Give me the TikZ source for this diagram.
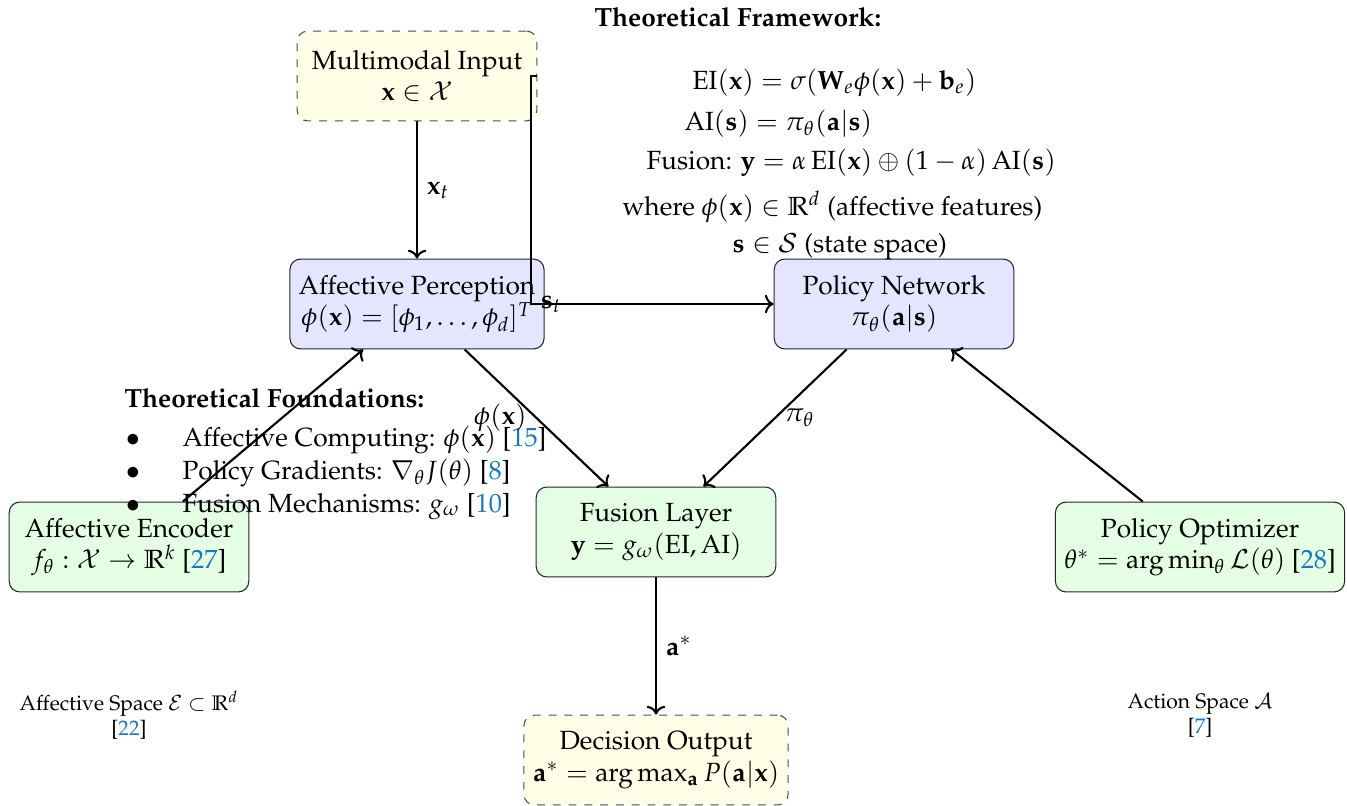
\documentclass[tikz,border=0pt]{standalone}
\usepackage[T1]{fontenc}
\usepackage{mathpazo}
\usepackage{amsmath,amssymb}
\usetikzlibrary{arrows.meta}
\definecolor{citeblue}{RGB}{28,118,190}
\newcommand{\mycite}[1]{[\textcolor{citeblue}{#1}]}
\tikzset{
  box/.style={draw=black!85, rounded corners=4pt, minimum width=3.2cm, minimum height=1.2cm, align=center},
  inbox/.style={box, dashed, draw=black!70, fill=yellow!10},
  bluebox/.style={box, fill=blue!10},
  greenbox/.style={box, fill=green!10},
  arr/.style={->, thick},
  txt/.style={inner sep=0pt, anchor=base west},
  smalltxt/.style={align=center, font=\footnotesize}
}
\begin{document}
\begin{tikzpicture}[x=0.38pt, y=-0.38pt]
\useasboundingbox (0,0) rectangle (1347,805);

% boxes
\node[inbox] (input) at (417,76) {Multimodal Input\\$\mathbf{x}\in\mathcal{X}$};
\node[bluebox] (perception) at (417,304) {Affective Perception\\$\phi(\mathbf{x})=[\phi_1,\ldots,\phi_d]^T$};
\node[bluebox] (policy) at (894,304) {Policy Network\\$\pi_\theta(\mathbf{a}|\mathbf{s})$};
\node[greenbox] (fusion) at (656,532) {Fusion Layer\\$\mathbf{y}=g_\omega(\mathrm{EI},\mathrm{AI})$};
\node[greenbox] (encoder) at (129,547) {Affective Encoder\\$f_\theta:\mathcal{X}\to\mathbb{R}^k$ \mycite{27}};
\node[greenbox] (optimizer) at (1200,547) {Policy Optimizer\\$\theta^*=\arg\min_\theta\mathcal{L}(\theta)$ \mycite{28}};
\node[inbox] (decision) at (656,760) {Decision Output\\$\mathbf{a}^*=\arg\max_{\mathbf{a}}P(\mathbf{a}|\mathbf{x})$};

% framework text
\node[txt] (fwtitle) at (594,27) {\textbf{Theoretical Framework:}};
\node[txt] (fw1) at (692,90) {$\mathrm{EI}(\mathbf{x})=\sigma(\mathbf{W}_e\phi(\mathbf{x})+\mathbf{b}_e)$};
\node[txt] (fw2) at (684,130) {$\mathrm{AI}(\mathbf{s})=\pi_\theta(\mathbf{a}|\mathbf{s})$};
\node[txt] (fw3) at (646,169) {Fusion: $\mathbf{y}=\alpha\,\mathrm{EI}(\mathbf{x})\oplus(1-\alpha)\,\mathrm{AI}(\mathbf{s})$};
\node[txt] (fw4) at (622,215) {where $\phi(\mathbf{x})\in\mathbb{R}^d$ (affective features)};
\node[txt] (fw5) at (732,252) {$\mathbf{s}\in\mathcal{S}$ (state space)};

% foundations text
\node[txt] (fdtitle) at (124,407) {\textbf{Theoretical Foundations:}};
\node[inner sep=0pt, anchor=base] (b1) at (133,446) {$\bullet$};
\node[inner sep=0pt, anchor=base] (b2) at (133,479) {$\bullet$};
\node[inner sep=0pt, anchor=base] (b3) at (133,512) {$\bullet$};
\node[txt] (fd1) at (182,446) {Affective Computing: $\phi(\mathbf{x})$ \mycite{15}};
\node[txt] (fd2) at (182,479) {Policy Gradients: $\nabla_\theta J(\theta)$ \mycite{8}};
\node[txt] (fd3) at (182,512) {Fusion Mechanisms: $g_\omega$ \mycite{10}};

% space labels
\node[smalltxt] (aspace) at (129,715) {Affective Space $\mathcal{E}\subset\mathbb{R}^d$\\\mycite{22}};
\node[smalltxt] (cspace) at (1200,715) {Action Space $\mathcal{A}$\\\mycite{7}};

% connectors
\coordinate (sA) at (531,76);
\draw[arr] (input) -- node[right] {$\mathbf{x}_t$} (perception);
\draw[arr] (input.east) -- (sA) |- node[right] {$\mathbf{s}_t$} (policy.west);
\draw[arr] (encoder) -- (perception);
\draw[arr] (perception) -- node[left] {$\phi(\mathbf{x})$} (fusion);
\draw[arr] (policy) -- node[right] {$\pi_\theta$} (fusion);
\draw[arr] (optimizer) -- (policy);
\draw[arr] (fusion) -- node[right] {$\mathbf{a}^*$} (decision);
\end{tikzpicture}
\end{document}
